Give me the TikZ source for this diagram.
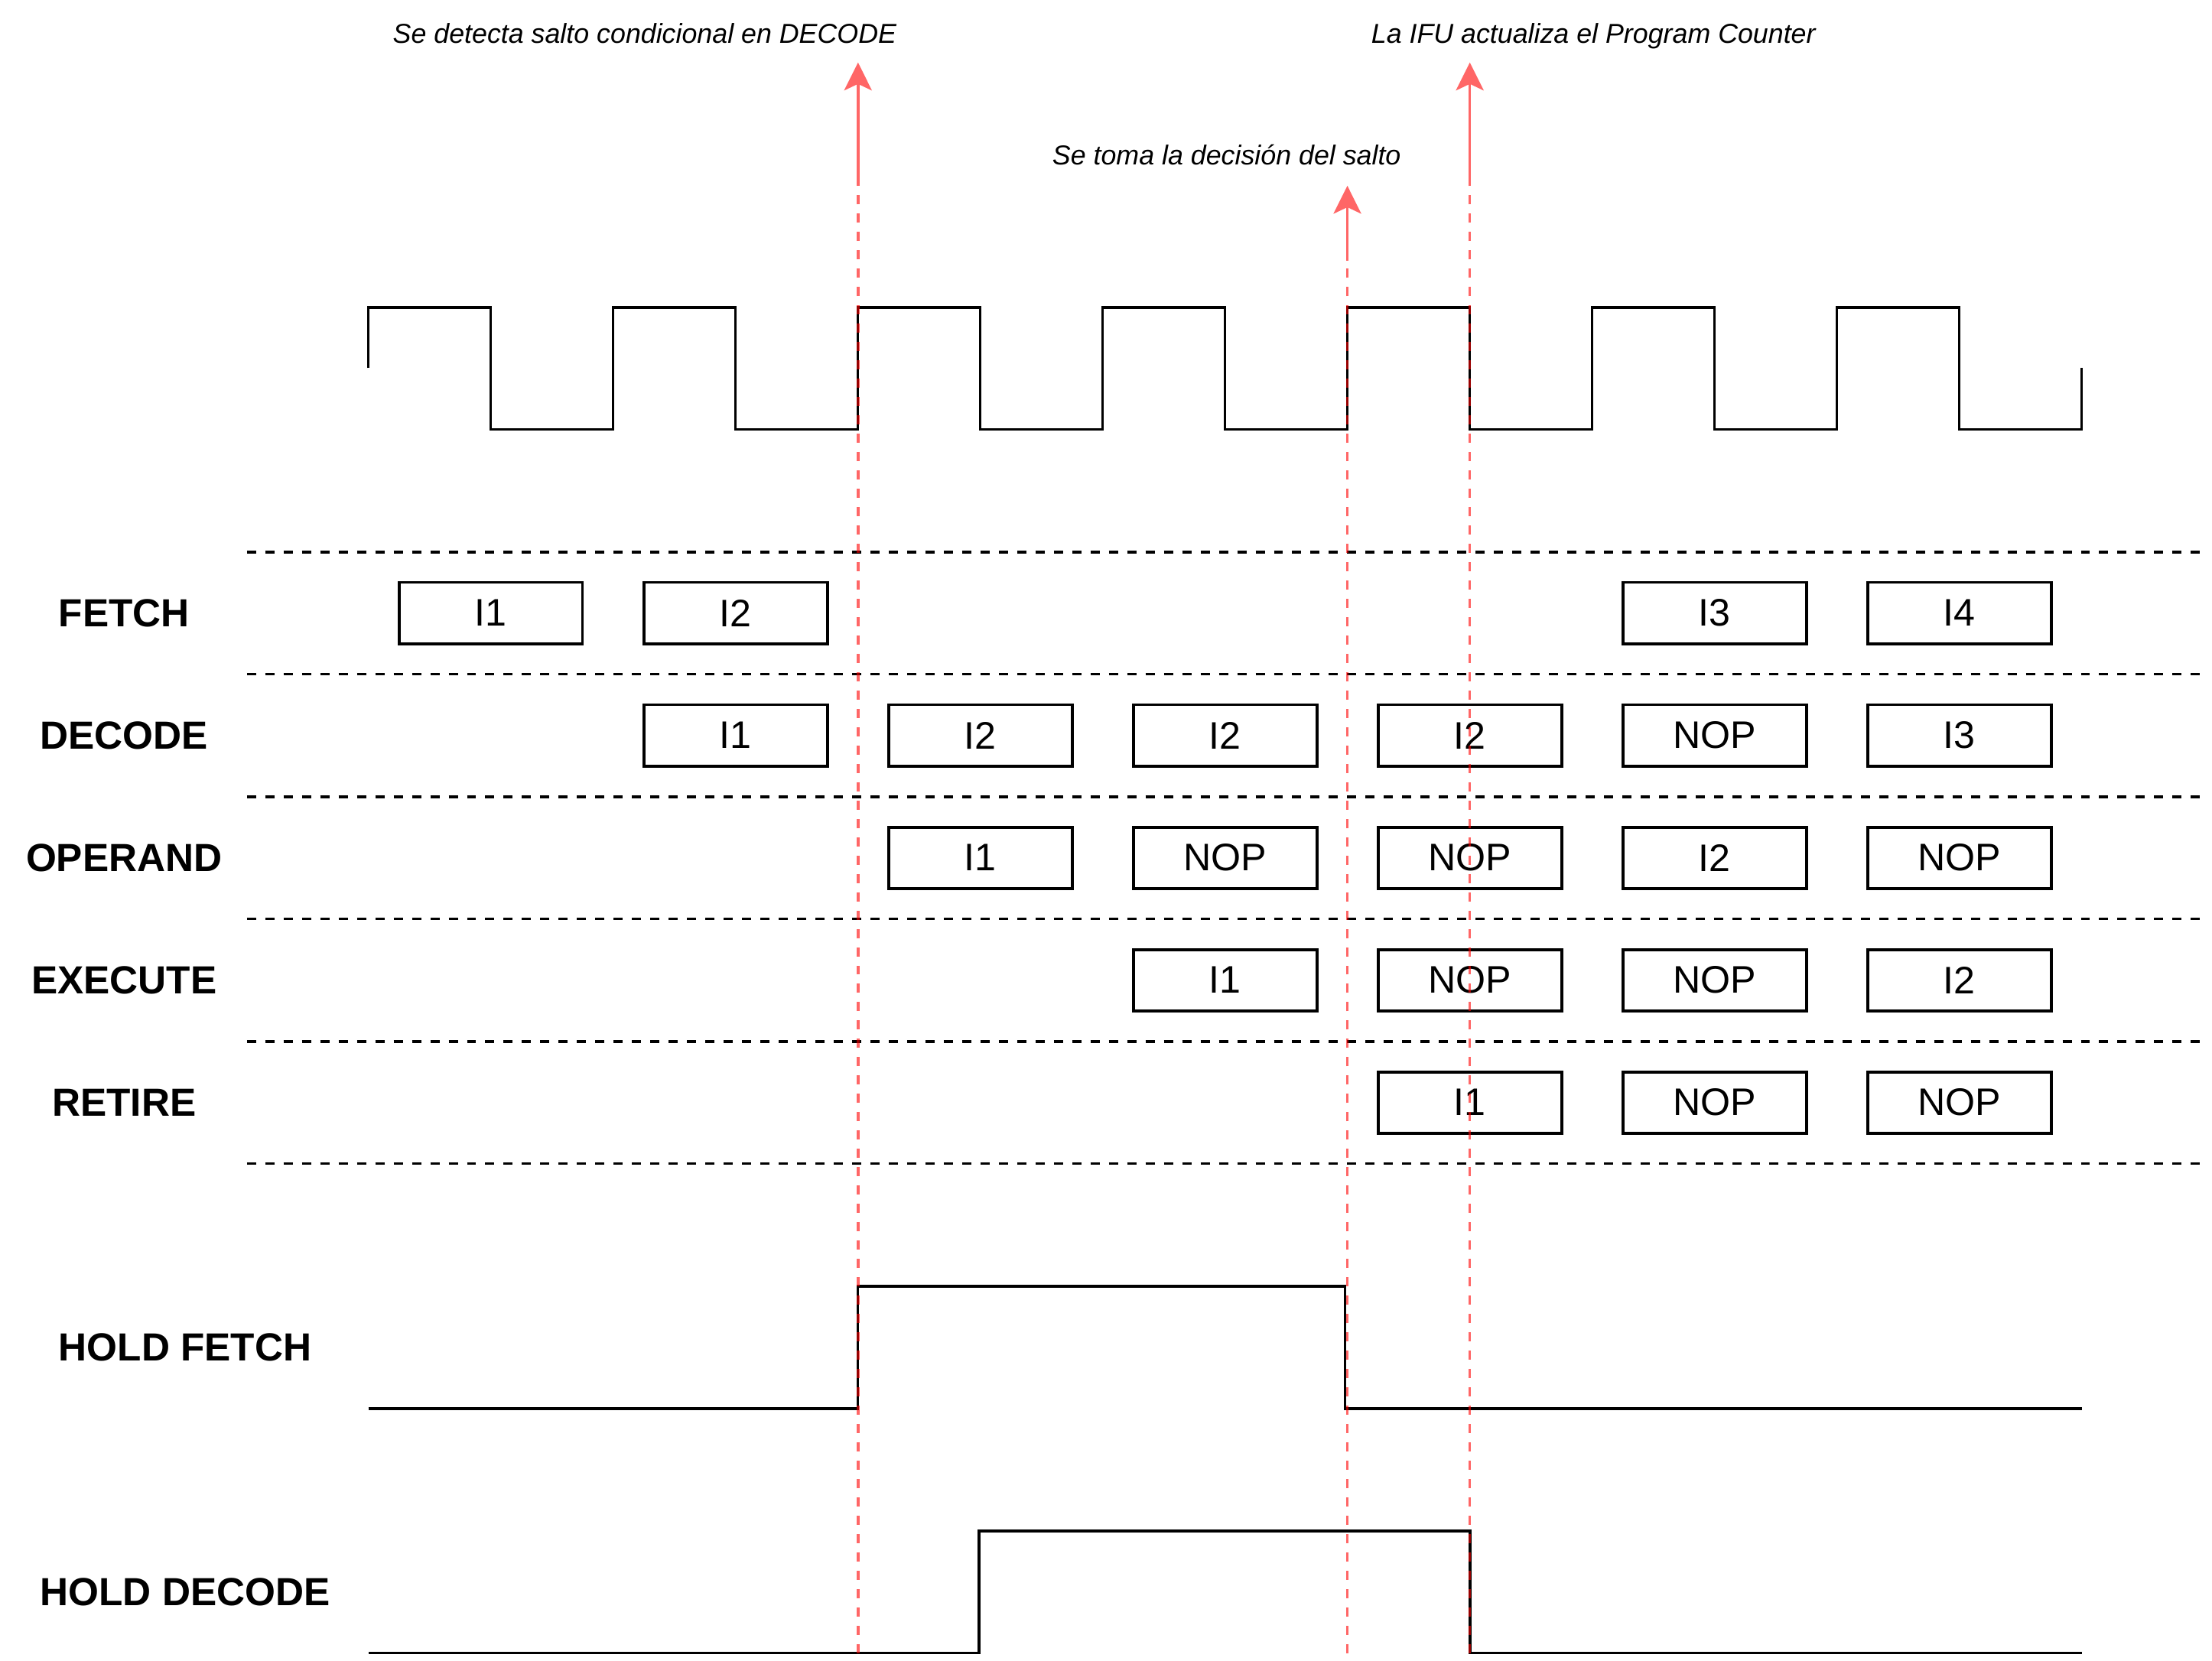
\documentclass[tikz,border=0pt]{standalone}
\usepackage{fontspec}
\setmainfont{Liberation Sans}
\usetikzlibrary{arrows.meta}
\definecolor{arrred}{RGB}{255,102,102}
\begin{document}
\begin{tikzpicture}[x=0.5pt,y=-0.5pt,
  sig/.style={line width=1pt, line join=miter},
  sep/.style={line width=1pt, dash pattern=on 3.25pt off 3.25pt},
  stagebox/.style={draw, line width=1pt, minimum width=65.05pt, minimum height=21.7pt, inner sep=0pt, font=\fontsize{13.6}{16}\selectfont},
  rowlabel/.style={font=\bfseries\fontsize{13.9}{16}\selectfont, inner sep=0pt},
  note/.style={font=\itshape\fontsize{9.7}{12}\selectfont, anchor=base, inner sep=0pt},
  marker/.style={draw=red, draw opacity=0.6, line width=0.95pt, dash pattern=on 3.25pt off 3.25pt},
  markarrow/.style={draw=arrred, fill=arrred, line width=0.95pt, -{Stealth[length=9.9pt,width=9.8pt,inset=2.3pt]}},
]
\useasboundingbox (0,0) rectangle (1568,1177.6);

% clock
\draw[sig] (261.1,261) \foreach \i in {0,...,6} { -- ({261.1+173.5*\i},217.8) -- ({347.85+173.5*\i},217.8) -- ({347.85+173.5*\i},304.5) -- ({434.6+173.5*\i},304.5) } -- (1475.6,261);

% separators
\foreach \yy in {391.3,478,564.8,651.5,738.3,825}
  \draw[sep] (175,\yy) -- (1560,\yy);

% row labels
\node[rowlabel] (lfetch) at (88,434.65) {FETCH};
\node[rowlabel] (ldecode) at (88,521.4) {DECODE};
\node[rowlabel] (loperand) at (88,608.15) {OPERAND};
\node[rowlabel] (lexecute) at (88,694.9) {EXECUTE};
\node[rowlabel] (lretire) at (88,781.65) {RETIRE};
\node[rowlabel] (lholdf) at (131.3,955.35) {HOLD FETCH};
\node[rowlabel] (lholdd) at (131.3,1128.7) {HOLD DECODE};

% FETCH
\node[stagebox] (f1) at (347.9,434.65) {I1};
\node[stagebox] (f2) at (521.4,434.65) {I2};
\node[stagebox] (f3) at (1215.4,434.65) {I3};
\node[stagebox] (f4) at (1388.9,434.65) {I4};
% DECODE
\node[stagebox] (d1) at (521.4,521.4) {I1};
\node[stagebox] (d2) at (694.9,521.4) {I2};
\node[stagebox] (d3) at (868.4,521.4) {I2};
\node[stagebox] (d4) at (1041.9,521.4) {I2};
\node[stagebox] (d5) at (1215.4,521.4) {NOP};
\node[stagebox] (d6) at (1388.9,521.4) {I3};
% OPERAND
\node[stagebox] (o1) at (694.9,608.15) {I1};
\node[stagebox] (o2) at (868.4,608.15) {NOP};
\node[stagebox] (o3) at (1041.9,608.15) {NOP};
\node[stagebox] (o4) at (1215.4,608.15) {I2};
\node[stagebox] (o5) at (1388.9,608.15) {NOP};
% EXECUTE
\node[stagebox] (e1) at (868.4,694.9) {I1};
\node[stagebox] (e2) at (1041.9,694.9) {NOP};
\node[stagebox] (e3) at (1215.4,694.9) {NOP};
\node[stagebox] (e4) at (1388.9,694.9) {I2};
% RETIRE
\node[stagebox] (r1) at (1041.9,781.65) {I1};
\node[stagebox] (r2) at (1215.4,781.65) {NOP};
\node[stagebox] (r3) at (1388.9,781.65) {NOP};

% hold signals
\draw[sig] (261.1,998.7) -- (608.1,998.7) -- (608.1,912) -- (953.5,912) -- (953.5,998.7) -- (1475.6,998.7);
\draw[sig] (261.1,1172) -- (694,1172) -- (694,1085.3) -- (1041.9,1085.3) -- (1041.9,1172) -- (1475.6,1172);

% notes
\node[note] (n1) at (457,30.4) {Se detecta salto condicional en DECODE};
\node[note] (n2) at (1129.5,30.4) {La IFU actualiza el Program Counter};
\node[note] (n3) at (869.5,116.6) {Se toma la decisión del salto};

% markers
\coordinate (m1b) at (608.2,1172);
\coordinate (m1m) at (608.2,131);
\coordinate (m1t) at (608.2,44.3);
\coordinate (m2b) at (955.1,1172);
\coordinate (m2m) at (955.1,185);
\coordinate (m2t) at (955.1,131.7);
\coordinate (m3b) at (1041.9,1172);
\coordinate (m3m) at (1041.9,131);
\coordinate (m3t) at (1041.9,44.3);
\draw[marker] (m1b) -- (m1m);
\draw[marker] (m2b) -- (m2m);
\draw[marker] (m3b) -- (m3m);
\draw[markarrow] (m1m) -- (m1t);
\draw[markarrow] (m2m) -- (m2t);
\draw[markarrow] (m3m) -- (m3t);
\end{tikzpicture}
\end{document}
